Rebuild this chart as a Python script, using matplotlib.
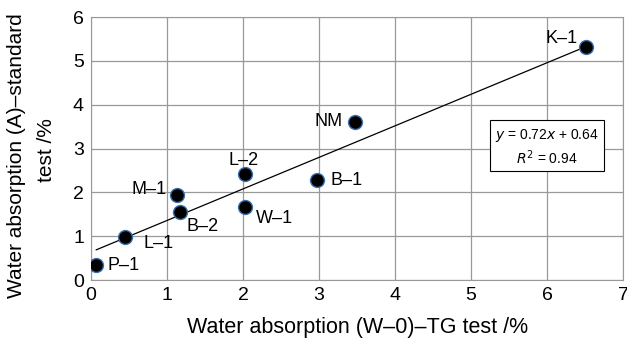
import numpy as np
import matplotlib.pyplot as plt

plt.rcParams['font.family'] = ['Liberation Sans', 'DejaVu Sans']

# data
names = ['P\u20131', 'L\u20131', 'M\u20131', 'B\u20132', 'L\u20132', 'W\u20131', 'B\u20131', 'NM', 'K\u20131']
tg_test = [0.07, 0.45, 1.13, 1.17, 2.03, 2.03, 2.97, 3.47, 6.51]
std_test = [0.34, 0.98, 1.94, 1.55, 2.42, 1.67, 2.28, 3.61, 5.32]
slope, intercept = 0.72, 0.64

# label offsets in points (dx, dy, ha)
offsets = {
    'P\u20131': (8, 0, 'left'),
    'L\u20131': (13, -4.5, 'left'),
    'M\u20131': (-7, 4, 'right'),
    'B\u20132': (4.5, -10, 'left'),
    'L\u20132': (-1, 10, 'center'),
    'W\u20131': (8, -8, 'left'),
    'B\u20131': (10, 0, 'left'),
    'NM': (-9, 0, 'right'),
    'K\u20131': (-6, 6, 'right'),
}

fig = plt.figure(figsize=(6.27, 3.42), dpi=100)
ax = fig.add_axes([0.145, 0.181, 0.849, 0.769])

xs = np.array([min(tg_test), max(tg_test)])
ax.plot(xs, slope * xs + intercept, color='black', lw=0.9, zorder=2)
ax.scatter(tg_test, std_test, s=100, color='black', edgecolor='#3a6fb0',
           linewidth=1.0, zorder=3)

for n, x, y in zip(names, tg_test, std_test):
    dx, dy, ha = offsets[n]
    ax.annotate(n, (x, y), xytext=(dx, dy), textcoords='offset points',
                ha=ha, va='center', fontsize=13)

ax.text(6.0, 3.04, '$y$ = 0.72$x$ + 0.64\n$R^2$ = 0.94', ha='center', va='center',
        fontsize=10, linespacing=1.25,
        bbox=dict(boxstyle='square,pad=0.35', fc='white', ec='black', lw=0.8))

ax.set_xlim(0, 7)
ax.set_ylim(0, 6)
ax.set_xticks(range(8))
ax.set_yticks(range(7))
ax.grid(True, color='#999999', lw=0.9)
ax.set_axisbelow(True)
for s in ax.spines.values():
    s.set_color('#999999')
ax.tick_params(length=0, labelsize=14, pad=5)
ax.set_xlabel('Water absorption (W\u20130)\u2013TG test /%', fontsize=15.5, labelpad=9)

# two-line y label, each line centred
fig.text(17 / 627, 1 - 156 / 342, 'Water absorption (A)\u2013standard', rotation=90,
         ha='center', va='center', fontsize=15)
fig.text(47 / 627, 1 - 150 / 342, 'test /%', rotation=90,
         ha='center', va='center', fontsize=15)

fig.savefig('out.png', dpi=100)
